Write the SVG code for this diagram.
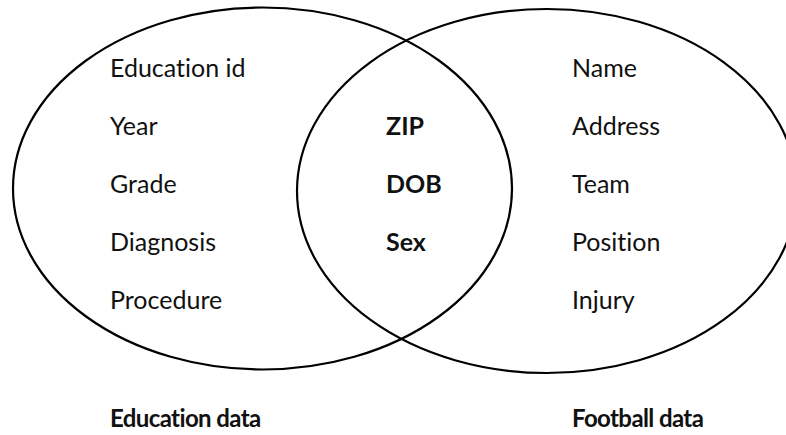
<svg xmlns="http://www.w3.org/2000/svg" width="786" height="435" viewBox="0 0 786 435">
<style>
.set{fill:none;stroke:#000;stroke-width:2.2}
text{font-family:Lato,"Open Sans","Liberation Sans",sans-serif;font-size:25px;fill:#111;font-variant-ligatures:none}
.b{font-weight:bold}
.t{font-size:24px;letter-spacing:-0.6px}
</style>
<rect width="786" height="435" fill="#fff"/>
<g id="education">
<ellipse class="set" cx="262.5" cy="188.5" rx="249.5" ry="181"/>
<text x="110" y="77">Education id</text>
<text x="110" y="135">Year</text>
<text x="110" y="193">Grade</text>
<text x="110" y="251">Diagnosis</text>
<text x="110" y="309">Procedure</text>
<text class="b t" x="110" y="427">Education data</text>
</g>
<g id="football">
<ellipse class="set" cx="547" cy="191" rx="250" ry="182"/>
<text x="572" y="77">Name</text>
<text x="572" y="135">Address</text>
<text x="572" y="193">Team</text>
<text x="572" y="251">Position</text>
<text x="572" y="309">Injury</text>
<text class="b t" x="572" y="427">Football data</text>
</g>
<g id="shared">
<text class="b" x="386" y="135">ZIP</text>
<text class="b" x="386" y="193">DOB</text>
<text class="b" x="386" y="251">Sex</text>
</g>
<g id="connectors"/>
</svg>
